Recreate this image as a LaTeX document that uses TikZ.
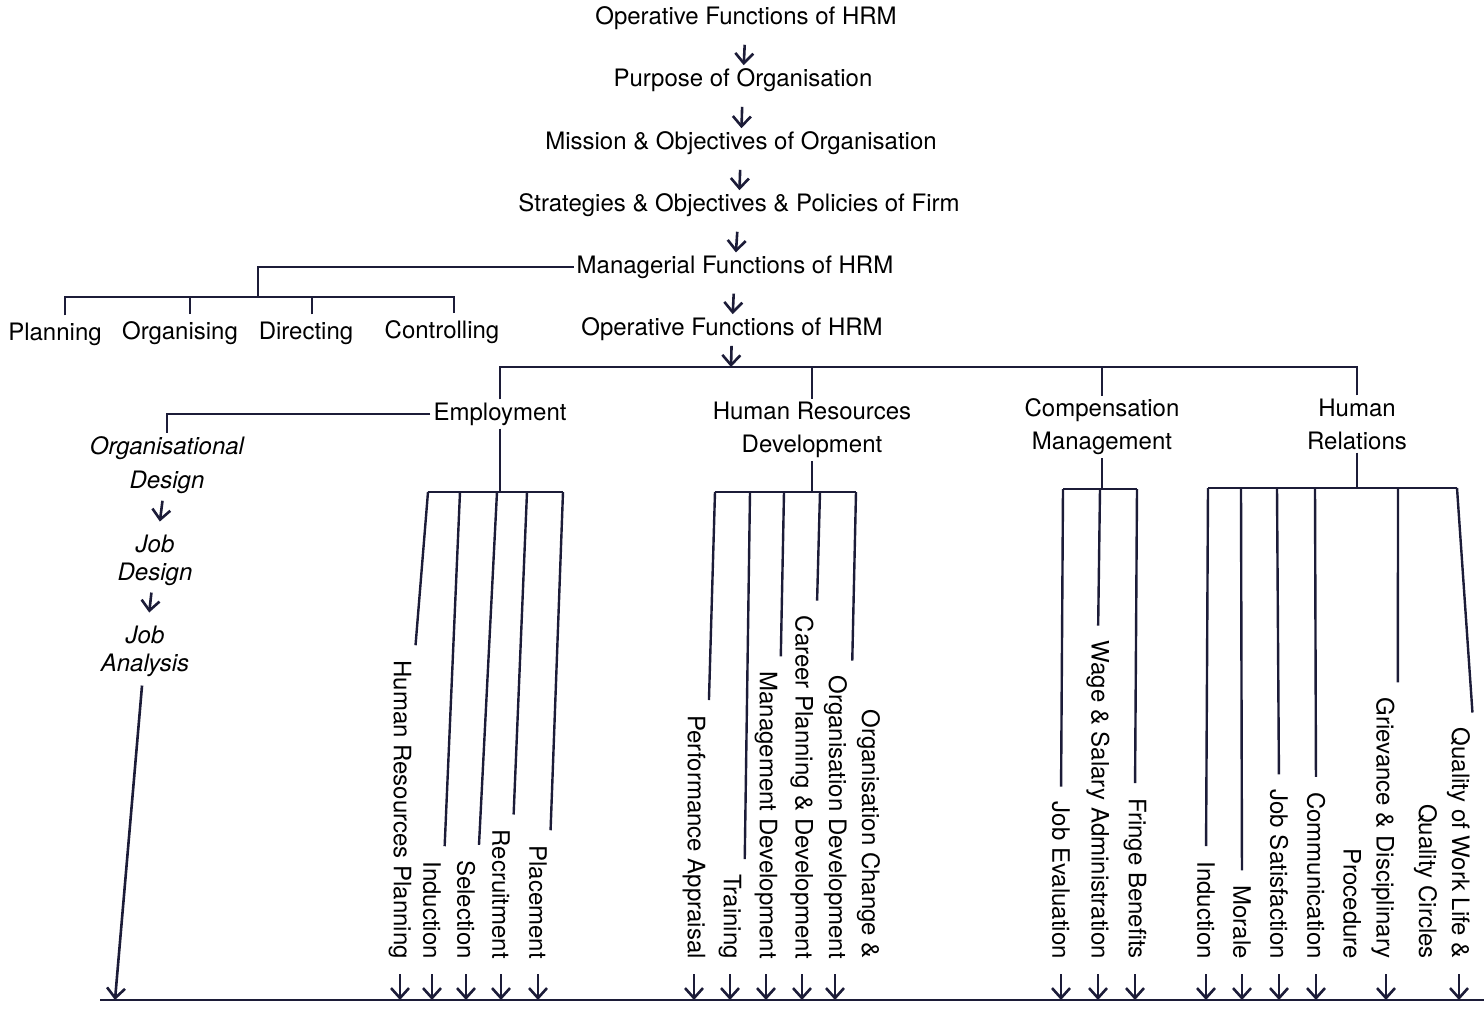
\documentclass[tikz,border=0pt]{standalone}
\usepackage{fontspec}
\setmainfont{TeX Gyre Heros}
\usetikzlibrary{arrows.meta}
\definecolor{ink}{HTML}{1C1C38}
\begin{document}
\begin{tikzpicture}[x=0.5pt,y=-0.5pt,line width=1.2pt,color=ink,
  every node/.style={inner sep=1pt,text=black,align=center,font=\fontsize{12}{16.5}\selectfont},
  darrow/.style={-{Straight Barb[length=5pt,width=9pt]},line width=1.3pt,shorten <=6pt},
  leg/.style={shorten >=6pt},
  leaf/.style={rotate=-90,anchor=east,align=right},
  lcol/.style={font=\itshape\fontsize{12}{14}\selectfont}]
\useasboundingbox (0,0) rectangle (1484,1019);
\node (op1) at (746,18) {Operative Functions of HRM};
\node (purpose) at (743,80) {Purpose of Organisation};
\node (mission) at (741,143) {Mission \& Objectives of Organisation};
\node (strategy) at (739,205) {Strategies \& Objectives \& Policies of Firm};
\node (managerial) at (735,267) {Managerial Functions of HRM};
\node (op2) at (732,329) {Operative Functions of HRM};
\draw[darrow] (op1) -- (purpose);
\draw[darrow] (purpose) -- (mission);
\draw[darrow] (mission) -- (strategy);
\draw[darrow] (strategy) -- (managerial);
\draw[darrow] (managerial) -- (op2);
\node (planning) at (55,334) {Planning};
\node (organising) at (180,333) {Organising};
\node (directing) at (306,333) {Directing};
\node (controlling) at (442,332) {Controlling};
\coordinate (mgbar) at (258,297);
\draw (managerial.west) -| (mgbar);
\draw[shorten <=2pt] ([xshift=5pt]planning.north) |- (mgbar);
\draw[shorten <=2pt] ([xshift=6pt]controlling.north) |- (mgbar);
\draw[shorten <=2pt] ([xshift=5pt]organising.north) -- ([xshift=5pt]organising.north |- mgbar);
\draw[shorten <=2pt] ([xshift=3pt]directing.north) -- ([xshift=3pt]directing.north |- mgbar);
\coordinate (opbar) at (731,367);
\draw[darrow,shorten <=1pt] (op2) -- (opbar);
\node (employment) at (500,414) {Employment};
\node (hrd) at (812,430) {Human Resources\\Development};
\node (comp) at (1102,427) {Compensation\\Management};
\node (hrel) at (1357,424) {Human\\Relations};
\draw (employment.north) |- (opbar);
\draw (hrel.north) |- (opbar);
\draw (hrd.north) -- (hrd.north |- opbar);
\draw (comp.north) -- (comp.north |- opbar);
\node[lcol] (orgdesign) at (167,465) {Organisational\\[3pt]Design};
\node[lcol] (jobdesign) at (155,560) {Job\\Design};
\node[lcol] (jobanalysis) at (145,651) {Job\\Analysis};
\draw (employment.west) -| (orgdesign.north);
\draw[darrow,shorten <=2pt,shorten >=5pt] (orgdesign) -- (jobdesign);
\draw[darrow,shorten <=2pt,shorten >=5pt] (jobdesign) -- (jobanalysis);
\coordinate (baseL) at (100,1000);
\coordinate (baseR) at (1484,1000);
\coordinate (jaend) at (115,1000);
\draw[line width=1.4pt] (baseL) -- (baseR);
\draw[darrow,shorten <=3pt] (jobanalysis) -- (jaend);
\node[leaf] (hrp) at (400,962) {Human Resources Planning};
\node[leaf] (induction) at (432,962) {Induction};
\node[leaf] (selection) at (466,962) {Selection};
\node[leaf] (recruitment) at (501,962) {Recruitment};
\node[leaf] (placement) at (538,962) {Placement};
\coordinate (em1) at (428,492);
\coordinate (em2) at (460,492);
\coordinate (em3) at (497,492);
\coordinate (em4) at (527,492);
\coordinate (em5) at (563,492);
\draw (em1) -- (em5);
\draw (employment.south) -- (employment.south |- em3);
\draw[leg] (em1) -- (hrp.north west);
\draw[leg] (em2) -- (induction.north west);
\draw[leg] (em3) -- (selection.north west);
\draw[leg] (em4) -- (recruitment.north west);
\draw[leg] (em5) -- (placement.north west);
\draw[darrow] (hrp.east) -- (hrp.east |- baseL);
\draw[darrow] (induction.east) -- (induction.east |- baseL);
\draw[darrow] (selection.east) -- (selection.east |- baseL);
\draw[darrow] (recruitment.east) -- (recruitment.east |- baseL);
\draw[darrow] (placement.east) -- (placement.east |- baseL);
\node[leaf] (appraisal) at (694,962) {Performance Appraisal};
\node[leaf] (training) at (730,962) {Training};
\node[leaf] (mgmtdev) at (766,962) {Management Development};
\node[leaf] (career) at (802,962) {Career Planning \& Development};
\node[leaf] (orgchange) at (852,962) {Organisation Change \&\\Organisation Development};
\coordinate (hd1) at (715,492);
\coordinate (hd2) at (750,492);
\coordinate (hd3) at (784,492);
\coordinate (hd4) at (820,492);
\coordinate (hd5) at (856,492);
\coordinate (ocend) at (835,1000);
\draw (hd1) -- (hd5);
\draw (hrd.south) -- (hrd.south |- hd1);
\draw[leg] (hd1) -- (appraisal.north west);
\draw[leg] (hd2) -- (training.north west);
\draw[leg] (hd3) -- (mgmtdev.north west);
\draw[leg] (hd4) -- (career.north west);
\draw[leg] (hd5) -- (orgchange.west);
\draw[darrow] (appraisal.east) -- (appraisal.east |- baseL);
\draw[darrow] (training.east) -- (training.east |- baseL);
\draw[darrow] (mgmtdev.east) -- (mgmtdev.east |- baseL);
\draw[darrow] (career.east) -- (career.east |- baseL);
\draw[darrow] (orgchange.east -| ocend) -- (ocend);
\node[leaf] (jobeval) at (1061,962) {Job Evaluation};
\node[leaf] (wage) at (1098,962) {Wage \& Salary Administration};
\node[leaf] (fringe) at (1135,962) {Fringe Benefits};
\coordinate (cm1) at (1063,489);
\coordinate (cm2) at (1100,489);
\coordinate (cm3) at (1137,489);
\draw (cm1) -- (cm3);
\draw (comp.south) -- (comp.south |- cm2);
\draw[leg] (cm1) -- (jobeval.west);
\draw[leg] (cm2) -- (wage.west);
\draw[leg] (cm3) -- (fringe.west);
\draw[darrow] (jobeval.east) -- (jobeval.east |- baseL);
\draw[darrow] (wage.east) -- (wage.east |- baseL);
\draw[darrow] (fringe.east) -- (fringe.east |- baseL);
\node[leaf] (hrinduction) at (1206,962) {Induction};
\node[leaf] (morale) at (1242,962) {Morale};
\node[leaf] (jobsat) at (1279,962) {Job Satisfaction};
\node[leaf] (communication) at (1316,962) {Communication};
\node[leaf] (grievance) at (1369,962) {Grievance \& Disciplinary\\Procedure};
\node[leaf] (quality) at (1442,962) {Quality of Work Life \&\\Quality Circles};
\coordinate (hr1) at (1208,488);
\coordinate (hr2) at (1241,488);
\coordinate (hr3) at (1277,488);
\coordinate (hr4) at (1315,488);
\coordinate (hr5) at (1398,488);
\coordinate (hr6) at (1457,488);
\coordinate (grend) at (1386,1000);
\coordinate (qlend) at (1459,1000);
\draw (hr1) -- (hr6);
\draw (hrel.south) -- (hrel.south |- hr1);
\draw[leg] (hr1) -- (hrinduction.west);
\draw[leg] (hr2) -- (morale.west);
\draw[leg] (hr3) -- (jobsat.west);
\draw[leg] (hr4) -- (communication.west);
\draw[leg] (hr5) -- (grievance.north west);
\draw[leg] (hr6) -- (quality.north west);
\draw[darrow] (hrinduction.east) -- (hrinduction.east |- baseL);
\draw[darrow] (morale.east) -- (morale.east |- baseL);
\draw[darrow] (jobsat.east) -- (jobsat.east |- baseL);
\draw[darrow] (communication.east) -- (communication.east |- baseL);
\draw[darrow] (grievance.east -| grend) -- (grend);
\draw[darrow] (quality.east -| qlend) -- (qlend);
\end{tikzpicture}
\end{document}
